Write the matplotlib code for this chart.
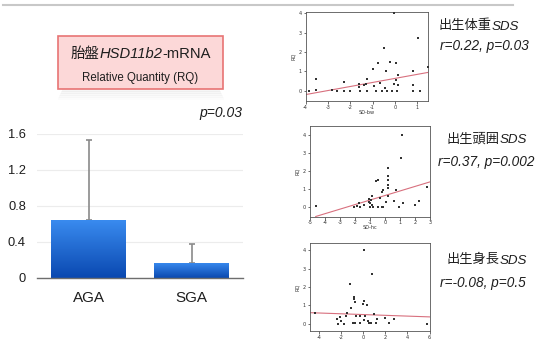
import matplotlib
matplotlib.use("Agg")
import matplotlib.pyplot as plt
import numpy as np
from matplotlib.patches import FancyBboxPatch, Rectangle
from matplotlib.lines import Line2D
from matplotlib.colors import LinearSegmentedColormap

# ---------------- data ----------------
groups = ["AGA", "SGA"]
rq_mean = [0.65, 0.17]
rq_err = [0.88, 0.21]
bar_yticks = [0, 0.4, 0.8, 1.2, 1.6]
bar_yticklabels = ["0", "0.4", "0.8", "1.2", "1.6"]

bw_x = [-3.83, -3.53, -3.53, -2.8, -2.6, -2.3, -2.3, -2.0, -1.6, -1.6, -1.55, -1.4, -1.3,
        -1.27, -1.25, -0.97, -0.94, -0.86, -0.78, -0.66, -0.57, -0.48, -0.45, -0.4, -0.36,
        -0.24, -0.15, -0.03, -0.03, 0.03, 0.06, 0.09, 0.12, 0.12, 0.81, 0.81, 0.81, 1.05,
        1.14, 1.47]
bw_y = [0.0, 0.58, 0.03, 0.03, 0.0, 0.44, 0.0, 0.0, 0.2, 0.33, 0.0, 0.28, 0.35,
        0.63, 0.0, 1.1, 0.23, 0.0, 1.45, 0.4, 0.0, 2.2, 0.16, 1.0, 0.0,
        1.47, 0.0, 4.0, 0.33, 0.53, 1.42, 0.0, 0.28, 0.8, 1.0, 0.28, 0.0, 2.74,
        0.0, 1.25]
bw_fit = [-0.2, 0.95]   # at x = -4, 1.5

hc_x = [-4.62, -2.1, -1.9, -1.75, -1.65, -1.4, -1.1, -1.05, -1.0, -0.98, -0.95, -0.9,
        -0.85, -0.8, -0.6, -0.45, -0.5, -0.35, -0.2, -0.2, -0.13, -0.13, 0.04, 0.18,
        0.18, 0.18, 0.18, 0.18, 0.18, 0.63, 0.72, 0.94, 1.12, 1.05, 1.2, 2.0, 2.28, 2.78]
hc_y = [0.07, 0.0, 0.07, 0.22, 0.0, 0.13, 0.3, 0.45, 0.0, 0.22, 0.4, 0.13,
        0.6, 0.0, 1.43, 1.5, 0.0, 0.5, 0.0, 0.82, 0.97, 0.0, 0.26, 2.18,
        1.7, 1.5, 1.25, 1.06, 0.6, 0.32, 0.93, 0.0, 4.02, 2.72, 0.22, 0.13, 0.32, 1.12]
hc_fit = [-0.52, 1.40]  # at x = -4.62, 3

bl_x = [-4.4, -2.4, -2.3, -2.1, -2.0, -1.8, -1.6, -1.45, -1.24, -1.1, -0.95, -0.86,
        -0.86, -0.8, -0.74, -0.65, -0.35, -0.27, -0.06, 0.03, 0.09, 0.09, 0.18, 0.33,
        0.44, 0.53, 0.68, 0.77, 0.98, 1.12, 1.27, 2.0, 2.3, 2.75, 5.77]
bl_y = [0.59, 0.24, 0.0, 0.37, 0.15, 0.0, 0.42, 0.6, 2.17, 0.84, 0.05, 1.47,
        1.34, 0.05, 1.16, 0.42, 0.05, 0.42, 1.06, 1.25, 4.0, 0.18, 0.42, 1.03,
        0.15, 0.05, 0.05, 2.72, 0.51, 0.05, 0.24, 0.33, 0.05, 0.24, 0.0]
bl_fit = [0.6, 0.37]    # at x = -4.9, 6

W, H = 535, 342
fig = plt.figure(figsize=(W / 100, H / 100), dpi=100)
fig.patch.set_facecolor("white")

LAT = "Liberation Sans"
CJK = ["Noto Sans CJK JP", "DejaVu Sans"]
TXT = "#1e1e1e"

def fx(px):
    return px / W

def fy(py):
    return 1 - py / H

# top separator line
fig.add_artist(Line2D([fx(3), fx(513)], [fy(5), fy(5)], color="#c8c8c8", lw=1.5))

# ---------------- bar chart ----------------
axb = fig.add_axes([fx(37), fy(278), fx(243 - 37), (278 - 134) / H])
xpos = np.arange(len(groups))
bars = axb.bar(xpos, rq_mean, width=0.72, color="#2a72d8", zorder=2)
cmap = LinearSegmentedColormap.from_list("g", ["#0a48b0", "#3a8cf0"])
grad = np.linspace(0, 1, 256).reshape(-1, 1)
for b in bars:
    x0, y0 = b.get_x(), b.get_y()
    im = axb.imshow(grad, cmap=cmap, origin="lower", aspect="auto",
                    extent=[x0, x0 + b.get_width(), y0, y0 + b.get_height()], zorder=3)
    im.set_clip_path(b)
axb.errorbar(xpos, rq_mean, yerr=[[0, 0], rq_err], fmt="none", ecolor="#8a8a8a",
             elinewidth=1.2, capsize=2.5, capthick=1.2, zorder=1)
axb.set_xlim(-0.5, 1.5)
axb.set_ylim(0, 1.6)
axb.set_yticks(bar_yticks)
axb.set_yticklabels(bar_yticklabels)
axb.set_xticks(xpos)
axb.set_xticklabels(groups)
axb.tick_params(axis="both", length=0)
axb.tick_params(axis="y", pad=8, labelsize=9.3, labelcolor=TXT)
axb.tick_params(axis="x", pad=9, labelsize=11, labelcolor=TXT)
for lab in axb.get_xticklabels() + axb.get_yticklabels():
    lab.set_fontfamily(LAT)
axb.grid(axis="y", color="#ececec", lw=0.8, zorder=0)
for s in ["top", "right", "left"]:
    axb.spines[s].set_visible(False)
axb.spines["bottom"].set_color("#6e6e6e")
axb.spines["bottom"].set_linewidth(1.0)
axb.spines["bottom"].set_zorder(4)
axb.set_axisbelow(True)

# ---------------- pink title box ----------------
for i, a in enumerate([0.06, 0.05, 0.04, 0.03, 0.02]):
    fig.add_artist(Rectangle((fx(62 - i), fy(92 + 2 * i)), fx(158 + 2 * i), 3 / H,
                             facecolor="#707070", alpha=a, edgecolor="none"))
box = FancyBboxPatch((fx(58), fy(89)), fx(223 - 58), (89 - 36) / H,
                     boxstyle="square,pad=0", facecolor="#fcd8d8", edgecolor="#e87474",
                     lw=1.2, transform=fig.transFigure)
fig.add_artist(box)

fig.canvas.draw()
renderer = fig.canvas.get_renderer()

def mixed(parts, cx, baseline_py, ha="center"):
    """parts: list of (text, dict of props). Placed on a shared baseline."""
    objs = []
    widths = []
    for s, props in parts:
        t = fig.text(0, 0, s, va="baseline", ha="left", color=TXT, **props)
        w = t.get_window_extent(renderer).width
        objs.append(t)
        widths.append(w)
    total = sum(widths)
    x = cx - total / 2 if ha == "center" else cx
    for t, w in zip(objs, widths):
        t.set_position((fx(x), fy(baseline_py)))
        x += w
    return objs

mixed([("胎盤", dict(family=CJK, fontsize=10.4)),
       ("HSD11b2", dict(family=LAT, style="italic", fontsize=10.6)),
       ("-mRNA", dict(family=LAT, fontsize=10.6))], 140.5, 58)
mixed([("Relative Quantity (RQ)", dict(family=LAT, fontsize=8.3))], 140.5, 80.5)
mixed([("p=0.03", dict(family=LAT, style="italic", fontsize=10))], 221, 117)

# ---------------- scatter panels ----------------
def scatter_panel(rect, xs, ys, xlim, ylim, xticks, fitx, fity, xlabel):
    l, t, r, b = rect
    ax = fig.add_axes([fx(l), fy(b), fx(r - l), (b - t) / H])
    ax.scatter(xs, ys, s=0.7, color="#333333", marker="s", linewidths=0, zorder=3)
    ax.plot(fitx, fity, color="#d8707e", lw=0.8, zorder=2)
    ax.set_xlim(*xlim)
    ax.set_ylim(*ylim)
    ax.set_xticks(xticks)
    ax.set_yticks([0, 1, 2, 3, 4])
    ax.set_xticklabels([str(v) for v in xticks])
    ax.tick_params(labelsize=3.6, length=1.8, width=0.5, pad=1, colors="#333333")
    for sp in ax.spines.values():
        sp.set_color("#555555")
        sp.set_linewidth(0.6)
    if xlabel:
        ax.set_xlabel(xlabel, fontsize=3.6, labelpad=0, color="#333333")
    ax.set_ylabel("RQ", fontsize=3.6, labelpad=2, color="#333333")
    return ax

scatter_panel((305.5, 11.5, 428.5, 101), bw_x, bw_y, (-4, 1.5), (-0.53, 4.09),
              [-4, -3, -2, -1, 0, 1], [-4, 1.5], bw_fit, "SD-bw")
scatter_panel((310, 126, 430, 216.5), hc_x, hc_y, (-5, 3), (-0.52, 4.5),
              [-5, -4, -3, -2, -1, 0, 1, 2, 3], [-4.62, 3], hc_fit, "SD-hc")
scatter_panel((309.5, 243, 429.5, 331), bl_x, bl_y, (-4.9, 6), (-0.4, 4.4),
              [-4, -2, 0, 2, 4, 6], [-4.9, 6], bl_fit, None)

# ---------------- right-side labels ----------------
mixed([("出生体重", dict(family=CJK, fontsize=9.5)),
       ("SDS", dict(family=LAT, style="italic", fontsize=9.6))], 479, 29.5)
mixed([("r=0.22, p=0.03", dict(family=LAT, style="italic", fontsize=9.8))], 440, 50, ha="left")
mixed([("出生頭囲", dict(family=CJK, fontsize=9.5)),
       ("SDS", dict(family=LAT, style="italic", fontsize=9.6))], 486.5, 143)
mixed([("r=0.37, p=0.002", dict(family=LAT, style="italic", fontsize=9.8))], 438, 166, ha="left")
mixed([("出生身長", dict(family=CJK, fontsize=9.5)),
       ("SDS", dict(family=LAT, style="italic", fontsize=9.6))], 486.5, 263.5)
mixed([("r=-0.08, p=0.5", dict(family=LAT, style="italic", fontsize=9.8))], 440, 287, ha="left")

fig.savefig("out.png", dpi=100, facecolor="white")
